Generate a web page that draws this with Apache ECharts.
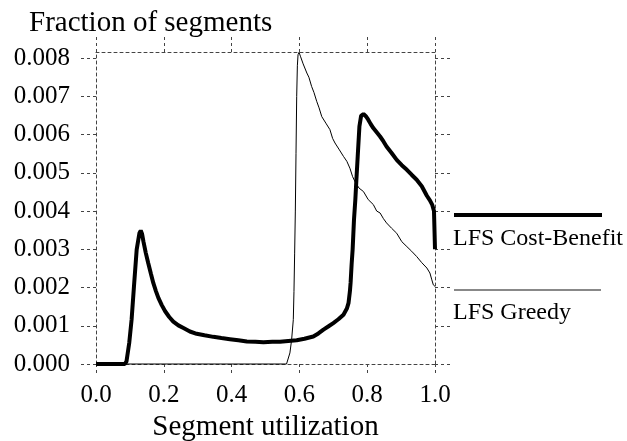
<!DOCTYPE html>
<html>
<head>
<meta charset="utf-8">
<script src="https://cdn.jsdelivr.net/npm/echarts@6/dist/echarts.min.js"></script>
<style>
    html, body { margin: 0; padding: 0; background: #fff; }
    #chart { width: 627px; height: 441px; }
</style>
</head>
<body>
<div id="chart"></div>
<script>
// series names
const seriesNames = ['LFS Cost-Benefit', 'LFS Greedy']

// LFS Cost-Benefit (thick line)
const cbX = [0.0, 0.085, 0.09, 0.098, 0.105, 0.112, 0.12, 0.128, 0.132, 0.136, 0.14, 0.147, 0.154, 0.162, 0.169, 0.177,
    0.184, 0.194, 0.204, 0.216, 0.228, 0.243, 0.258, 0.277, 0.297, 0.32, 0.346, 0.37, 0.395, 0.42, 0.445, 0.47,
    0.494, 0.52, 0.543, 0.567, 0.592, 0.615, 0.641, 0.656, 0.671, 0.685, 0.70, 0.715, 0.73, 0.74, 0.745, 0.749,
    0.751, 0.754, 0.757, 0.761, 0.765, 0.768, 0.772, 0.777, 0.782, 0.789, 0.796, 0.803, 0.81, 0.818, 0.828, 0.838,
    0.848, 0.857, 0.872, 0.887, 0.902, 0.917, 0.931, 0.946, 0.961, 0.976, 0.985, 0.992, 0.997, 1.0, 1.0]
const cbY = [0, 0, 0.00007, 0.00055, 0.00116, 0.00203, 0.00299, 0.00342, 0.00349, 0.0034, 0.0032, 0.0029, 0.00264, 0.00236, 0.00212, 0.0019,
    0.00173, 0.00154, 0.00138, 0.00123, 0.00111, 0.00101, 0.00094, 0.00085, 0.00079, 0.00075, 0.00071, 0.00068, 0.00065, 0.00062, 0.00059, 0.00058,
    0.00057, 0.00058, 0.00058, 0.0006, 0.00062, 0.00066, 0.00072, 0.0008, 0.0009, 0.00098, 0.00107, 0.00117, 0.00129, 0.00145, 0.0016, 0.0019,
    0.00212, 0.0026, 0.00299, 0.00377, 0.0043, 0.0048, 0.00543, 0.00621, 0.00649, 0.00654, 0.00648, 0.00639, 0.00628, 0.00617, 0.00606, 0.00595,
    0.00582, 0.00569, 0.00552, 0.00534, 0.0052, 0.00508, 0.00495, 0.00482, 0.00465, 0.0044, 0.00428, 0.00416, 0.004, 0.00395, 0.0030]

// LFS Greedy (thin line)
const grX = [0.0, 0.562, 0.572, 0.577, 0.582, 0.584, 0.586, 0.588, 0.590, 0.592, 0.594, 0.596, 0.599, 0.603, 0.607, 0.611,
    0.615, 0.622, 0.628, 0.636, 0.643, 0.651, 0.658, 0.666, 0.678, 0.69, 0.698, 0.705, 0.718, 0.73, 0.74, 0.749,
    0.757, 0.764, 0.776, 0.789, 0.803, 0.818, 0.828, 0.838, 0.848, 0.857, 0.872, 0.887, 0.902, 0.917, 0.931, 0.946,
    0.961, 0.976, 0.985, 0.990, 0.995, 1.0]
const grY = [0, 0, 0.00029, 0.00063, 0.00116, 0.0019, 0.0029, 0.004, 0.0055, 0.007, 0.0078, 0.00809, 0.00815, 0.00805, 0.008, 0.00785,
    0.0078, 0.00761, 0.0075, 0.00726, 0.0071, 0.00687, 0.0067, 0.00647, 0.0063, 0.00613, 0.0059, 0.00578, 0.0056, 0.00543, 0.0053, 0.00512,
    0.0049, 0.00477, 0.0046, 0.00451, 0.0043, 0.00417, 0.004, 0.00395, 0.0038, 0.00369, 0.00355, 0.00342, 0.0032, 0.00307, 0.00295, 0.00281,
    0.00265, 0.00251, 0.00238, 0.00222, 0.00207, 0.00203]

// tick values
const xTicks = [0, 0.2, 0.4, 0.6, 0.8, 1.0]
const yTicks = [0, 0.001, 0.002, 0.003, 0.004, 0.005, 0.006, 0.007, 0.008]

const font = 'Liberation Serif'
const dotted = { color: '#444', width: 1, type: [3, 3] }

function pairs(xs, ys) {
    let out = []
    for (let i = 0; i < xs.length; i++) {
        out.push([xs[i], ys[i]])
    }
    return out
}

function xAxisOf(pos, tickLen, showLabel) {
    return {
        type: 'value', position: pos, min: 0, max: 1, interval: 0.2,
        axisLine: { show: true, onZero: false, lineStyle: dotted },
        axisTick: { show: true, inside: false, length: tickLen, customValues: xTicks, lineStyle: dotted },
        axisLabel: {
            show: showLabel, customValues: xTicks, margin: 19,
            fontFamily: font, fontSize: 25, color: '#000',
            formatter: (v) => v.toFixed(1)
        },
        splitLine: { show: false }
    }
}

function yAxisOf(pos, showLabel) {
    return {
        type: 'value', position: pos, min: 0, max: 0.00816,
        axisLine: { show: true, onZero: false, lineStyle: dotted },
        axisTick: { show: true, inside: false, length: 17, customValues: yTicks, lineStyle: dotted },
        axisLabel: {
            show: showLabel, customValues: yTicks, margin: 26, padding: [6, 0, 0, 0],
            fontFamily: font, fontSize: 25, color: '#000',
            formatter: (v) => v.toFixed(3)
        },
        splitLine: { show: false }
    }
}

const chart = echarts.init(document.getElementById('chart'), null, { renderer: 'canvas' })

let bottomX = xAxisOf('bottom', 12, true)
bottomX.name = 'Segment utilization'
bottomX.nameLocation = 'middle'
bottomX.nameGap = 36
bottomX.nameTextStyle = { fontFamily: font, fontSize: 29, color: '#000' }

const option = {
    backgroundColor: '#fff',
    animation: false,
    title: {
        text: 'Fraction of segments',
        left: 24, top: 4,
        textStyle: { fontFamily: font, fontSize: 29, fontWeight: 'normal', color: '#000' }
    },
    // fixed plot box, no auto shrinking for labels
    grid: { left: 96, right: 192, top: 52, bottom: 77, containLabel: false, outerBoundsMode: 'none' },
    xAxis: [bottomX, xAxisOf('top', 15, false)],
    yAxis: [yAxisOf('left', true), yAxisOf('right', false)],
    series: [
        {
            name: seriesNames[0], type: 'line', showSymbol: false, clip: false,
            data: pairs(cbX, cbY),
            lineStyle: { color: '#000', width: 4 }
        },
        {
            name: seriesNames[1], type: 'line', showSymbol: false, clip: false,
            data: pairs(grX, grY),
            lineStyle: { color: '#000', width: 1 }
        }
    ],
    // legend drawn by hand: line above its label
    graphic: [
        { type: 'line', shape: { x1: 454, y1: 215, x2: 602, y2: 215 }, style: { stroke: '#000', lineWidth: 4 } },
        { type: 'text', x: 453, y: 239, style: { text: seriesNames[0], font: '24px "Liberation Serif"', fill: '#000', verticalAlign: 'middle' } },
        { type: 'line', shape: { x1: 454, y1: 290, x2: 601, y2: 290 }, style: { stroke: '#888', lineWidth: 2 } },
        { type: 'text', x: 453, y: 313, style: { text: seriesNames[1], font: '24px "Liberation Serif"', fill: '#000', verticalAlign: 'middle' } }
    ]
}

chart.setOption(option)
</script>
</body>
</html>
